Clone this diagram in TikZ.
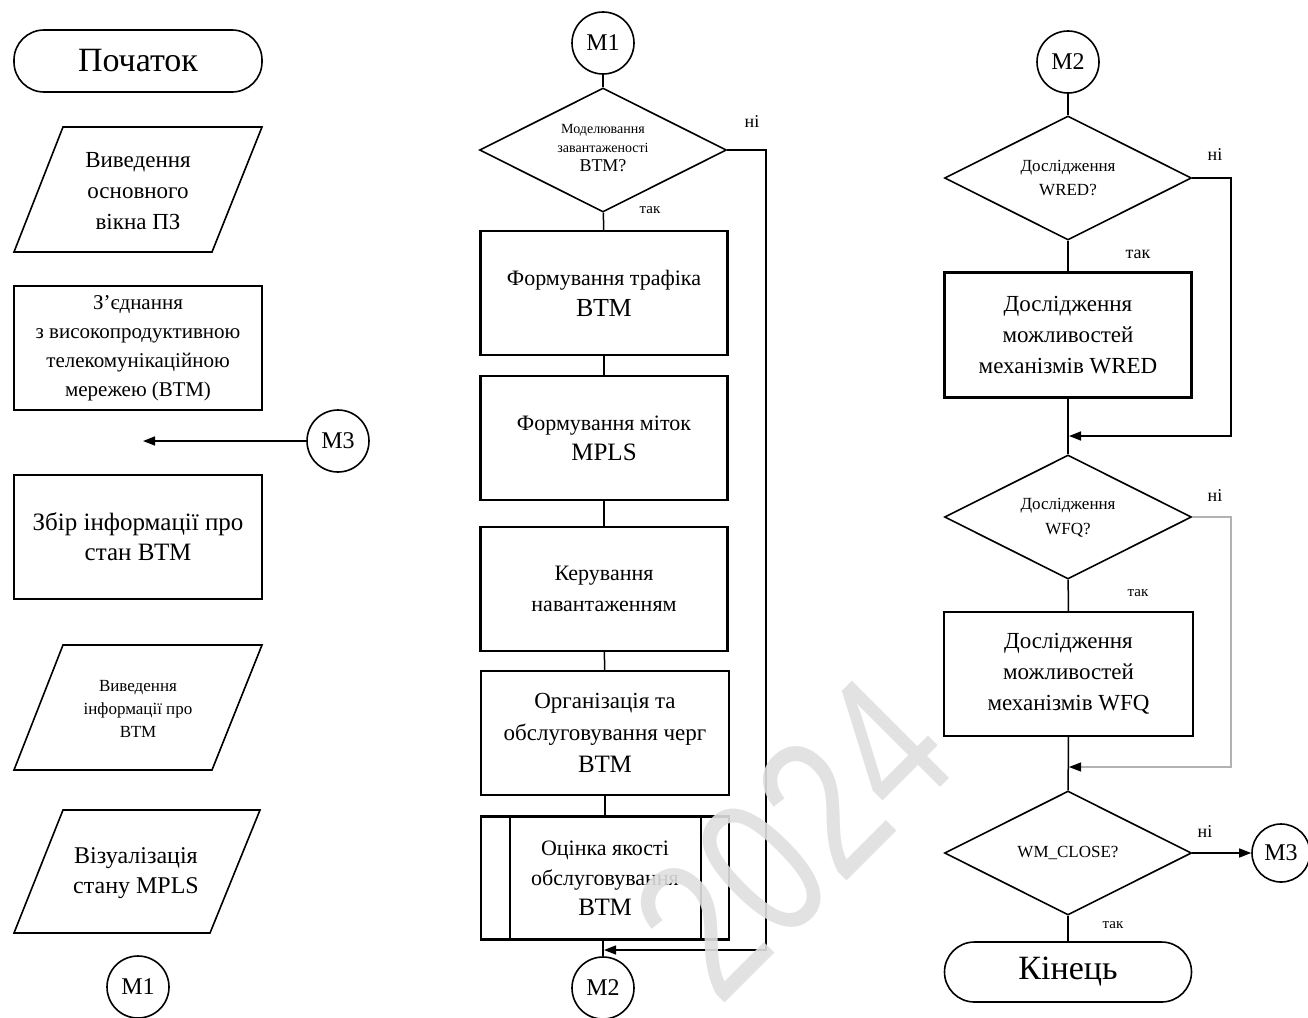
\documentclass[tikz,border=0pt]{standalone}
\usepackage{fontspec}
\setmainfont{Liberation Serif}
\newfontfamily\wmfont{Liberation Sans}
\usetikzlibrary{shapes.geometric,arrows.meta}
\newcommand\fsz[2]{\fontsize{#1}{#2}\selectfont}
\tikzset{
  box/.style={draw, line width=2.2pt, minimum width=247, minimum height=124, inner sep=0pt, align=center, font=\fsz{23}{31}},
  conn/.style={draw, circle, line width=1.6pt, minimum size=62, inner sep=0pt, font=\fsz{24}{28}},
  term/.style={draw, rounded corners=30, line width=1.6pt, minimum width=248, minimum height=62, inner sep=0pt, font=\fsz{34}{40}},
  dec/.style={draw, diamond, line width=1.6pt, minimum width=247, minimum height=124, inner sep=0pt},
  para/.style={draw, line width=1.6pt},
  txt/.style={align=center, inner sep=0pt},
  lbl/.style={inner sep=0pt, font=\fsz{18}{20}},
  line/.style={line width=1.5pt},
  arr/.style={line width=1.5pt, -{Triangle[length=12pt,width=9pt]}}
}
\begin{document}
\begin{tikzpicture}[x=1pt,y=-1pt]
\useasboundingbox (0,0) rectangle (1308,1017);
% ---------- left column ----------
\node[term] (start) at (138,61) {Початок};
\draw[para] (63,127) -- (262,127) -- (212,252) -- (14,252) -- cycle;
\node[txt, font=\fsz{23}{31}] (in1) at (138,191) {Виведення\\основного\\вікна ПЗ};
\node[box, line width=1.8pt, minimum width=248, font=\fsz{21}{29}] (link) at (138,348) {З’єднання\\з високопродуктивною\\телекомунікаційною\\мережею (ВТМ)};
\node[conn] (m3l) at (338,441) {М3};
\coordinate (m3end) at (143,441);
\draw[arr] (m3l.west) -- (m3end);
\node[box, line width=1.8pt, minimum width=248, font=\fsz{25}{30}] (gather) at (138,537) {Збір інформації про\\стан ВТМ};
\draw[para] (63,645) -- (262,645) -- (212,770) -- (14,770) -- cycle;
\node[txt, font=\fsz{17}{23}] (in2) at (138,709) {Виведення\\інформації про\\ВТМ};
\draw[para] (63,810) -- (260,810) -- (210,933) -- (14,933) -- cycle;
\node[txt, font=\fsz{24}{30}] (viz) at (136,873) {Візуалізація\\стану MPLS};
\node[conn] (m1l) at (138,987) {М1};
% ---------- middle column ----------
\node[conn] (m1) at (603,43) {М1};
\node[dec] (d1) at (603,150) {};
\node[txt, font=\fsz{14}{19}] (d1t) at (603,148) {Моделювання\\завантаженості\\\fsz{18}{22}ВТМ?};
\node[box, font=\fsz{22}{31}] (b1) at (604,293) {Формування трафіка\\\fsz{26}{31}ВТМ};
\node[box, font=\fsz{22}{30}] (b2) at (604,438) {Формування міток\\\fsz{25}{30}MPLS};
\node[box, font=\fsz{22}{31}] (b3) at (604,589) {Керування\\навантаженням};
\node[box, minimum width=248, font=\fsz{23}{32}] (b4) at (605,733) {Організація та\\обслуговування черг\\\fsz{25}{31}ВТМ};
\node[box, minimum width=248, minimum height=123, font=\fsz{22}{30}] (b5) at (605,878) {Оцінка якості\\обслуговування\\\fsz{25}{30}ВТМ};
\draw[line width=2.2pt] ([xshift=30]b5.north west) -- ([xshift=30]b5.south west);
\draw[line width=2.2pt] ([xshift=-29]b5.north east) -- ([xshift=-29]b5.south east);
\node[conn] (m2) at (603,988) {М2};
\draw[line] (m1) -- (d1);
\draw[line] (d1) -- (b1);
\draw[line] (b1) -- (b2);
\draw[line] (b2) -- (b3);
\draw[line] (b3) -- (b4);
\draw[line] (b4) -- (b5);
\draw[line] (b5.south -| m2) -- (m2);
\coordinate (r1a) at (766,150);
\coordinate (r1b) at (766,950);
\coordinate (j1) at (604,950);
\draw[arr] (d1.east) -- (r1a) -- (r1b) -- (j1);
\node[lbl] (n1) at (752,122) {ні};
\node[lbl, font=\fsz{15}{18}] (y1) at (650,210) {так};
% ---------- right column ----------
\node[conn] (m2r) at (1068,62) {М2};
\node[dec] (d2) at (1068,178) {};
\node[txt, font=\fsz{17}{24}] (d2t) at (1068,178) {Дослідження\\WRED?};
\node[box, minimum height=125, font=\fsz{23}{31}] (bw) at (1068,335) {Дослідження\\можливостей\\механізмів WRED};
\node[dec] (d3) at (1068,517) {};
\node[txt, font=\fsz{17}{25}] (d3t) at (1068,518) {Дослідження\\WFQ?};
\node[box, minimum width=249, font=\fsz{23}{31}] (bq) at (1068.5,674) {Дослідження\\можливостей\\механізмів WFQ};
\node[dec] (d4) at (1068,853) {};
\node[txt, font=\fsz{17}{20}] (d4t) at (1068,853) {WM\_CLOSE?};
\node[conn, minimum size=58] (m3r) at (1281,853) {М3};
\node[term, minimum width=247, minimum height=60] (fin) at (1068,972) {Кінець};
\draw[line] (m2r) -- (d2);
\draw[line] (d2) -- (bw);
\draw[line] (bw) -- (d3);
\draw[line] (d3) -- (bq);
\draw[line] (bq) -- (d4);
\draw[line] (d4) -- (fin);
\coordinate (r2a) at (1231,178);
\coordinate (r2b) at (1231,436);
\coordinate (j2) at (1069,436);
\draw[arr] (d2.east) -- (r2a) -- (r2b) -- (j2);
\coordinate (r3a) at (1231,517);
\coordinate (r3b) at (1231,767);
\coordinate (j3) at (1069,767);
\draw[line width=1.2pt, draw=gray!60, -{Triangle[length=12pt,width=9pt,color=black]}] (d3.east) -- (r3a) -- (r3b) -- (j3);
\draw[arr] (d4.east) -- (m3r.west);
\node[lbl] (n2) at (1215,155) {ні};
\node[lbl] (y2) at (1138,254) {так};
\node[lbl] (n3) at (1215,496) {ні};
\node[lbl, font=\fsz{15}{18}] (y3) at (1138,593) {так};
\node[lbl] (n4) at (1205,832) {ні};
\node[lbl, font=\fsz{15}{18}] (y4) at (1113,925) {так};
% ---------- watermark ----------
\node[transform shape, rotate=45, yscale=1.29, text=gray!25, opacity=0.9, inner sep=0pt, font=\wmfont\fsz{155}{155}] (wm) at (793,838) {2024};
\end{tikzpicture}
\end{document}
